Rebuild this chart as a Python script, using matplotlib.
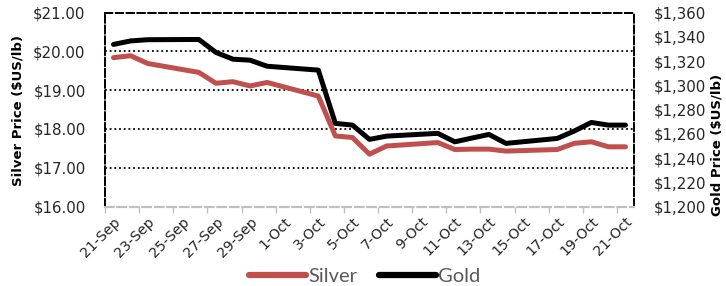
import matplotlib.pyplot as plt
import pandas as pd

# trading days and closing prices
dates = ["2016-09-21", "2016-09-22", "2016-09-23", "2016-09-26", "2016-09-27",
         "2016-09-28", "2016-09-29", "2016-09-30", "2016-10-03", "2016-10-04",
         "2016-10-05", "2016-10-06", "2016-10-07", "2016-10-10", "2016-10-11",
         "2016-10-12", "2016-10-13", "2016-10-14", "2016-10-17", "2016-10-18",
         "2016-10-19", "2016-10-20", "2016-10-21"]
silver = [19.84, 19.89, 19.69, 19.46, 19.18, 19.22, 19.11, 19.20, 18.85, 17.82,
          17.78, 17.35, 17.56, 17.65, 17.47, 17.48, 17.48, 17.43, 17.47, 17.63,
          17.67, 17.54, 17.54]
gold = [1333.8, 1336.7, 1337.7, 1337.9, 1327.2, 1321.6, 1320.8, 1315.8, 1312.6,
        1268.6, 1267.2, 1255.4, 1258.1, 1260.4, 1253.4, 1256.5, 1259.5, 1252.1,
        1256.2, 1262.3, 1269.4, 1267.2, 1267.2]
silver_ticks = [16, 17, 18, 19, 20, 21]
gold_ticks = [1200, 1220, 1240, 1260, 1280, 1300, 1320, 1340, 1360]

RED = "#C0504D"
GRAY = "#595959"

x = pd.to_datetime(dates)

fig = plt.figure(figsize=(7.26, 2.86), dpi=100)
ax = fig.add_axes([105 / 726, 1 - 206.5 / 286, 529 / 726, 193.8 / 286])
ax2 = ax.twinx()

ax.plot(x, silver, c=RED, lw=3.6, solid_joinstyle="round", solid_capstyle="round",
        label="Silver", zorder=3)
ax2.plot(x, gold, c="k", lw=3.6, solid_joinstyle="round", solid_capstyle="round",
         label="Gold", zorder=3)

ax.set_ylim(16, 21)
ax2.set_ylim(1200, 1360)
ax.set_yticks(silver_ticks)
ax.set_yticklabels(["${:.2f}".format(v) for v in silver_ticks])
ax2.set_yticks(gold_ticks)
ax2.set_yticklabels(["${:,}".format(v) for v in gold_ticks])
for v in silver_ticks[1:-1]:
    ax.axhline(v, c="k", ls=(0, (1, 1.6)), lw=1.3, zorder=1)

# date axis: labels every other day, tick marks between days
half = pd.Timedelta(hours=12)
ax.set_xlim(pd.Timestamp("2016-09-21") - half, pd.Timestamp("2016-10-21") + half)
label_days = pd.date_range("2016-09-21", "2016-10-21", freq="2D")
ax.set_xticks(label_days)
ax.set_xticklabels(["{}-{}".format(d.day, d.strftime("%b")) for d in label_days],
                   rotation=45, ha="right", rotation_mode="anchor",
                   fontsize=10.2, color="#262626")
ax.tick_params(axis="x", length=0, pad=6)
minor = pd.date_range("2016-09-21", "2016-10-22", freq="2D") - half
ax.set_xticks(minor, minor=True)
ax.tick_params(axis="x", which="minor", length=4, color="#BFBFBF", width=1)

ax.tick_params(axis="y", length=0, pad=14, labelsize=10.8, labelcolor="#262626")
ax2.tick_params(axis="y", length=0, pad=14, labelsize=10.8, labelcolor="#262626")

for a in (ax, ax2):
    for side in ("left", "right", "top"):
        a.spines[side].set_linestyle((0, (4, 2)))
        a.spines[side].set_color("k")
        a.spines[side].set_linewidth(1.3)
    a.spines["bottom"].set_linestyle((0, (4, 2)))
    a.spines["bottom"].set_color("#BFBFBF")
    a.spines["bottom"].set_linewidth(1.5)

fig.text(18 / 726, 1 - 110 / 286, "Silver Price ($US/lb)", rotation=90, ha="center",
         va="center", fontsize=9.5, fontweight="bold", color="k")
fig.text(717 / 726, 1 - 145 / 286, "Gold Price ($US/lb)", rotation=90, ha="center",
         va="center", fontsize=9.5, fontweight="bold", color="k")

h1, l1 = ax.get_legend_handles_labels()
h2, l2 = ax2.get_legend_handles_labels()
leg = fig.legend(h1 + h2, l1 + l2, loc="center", bbox_to_anchor=(365 / 726, 1 - 276 / 286),
                 ncol=2, frameon=False, handlelength=2.8, handletextpad=0.12,
                 columnspacing=1.1, prop={"family": "Lato", "size": 14.5})
for t in leg.get_texts():
    t.set_color(GRAY)
for ln in leg.get_lines():
    ln.set_linewidth(4.5)

fig.savefig("out.png", dpi=100)
